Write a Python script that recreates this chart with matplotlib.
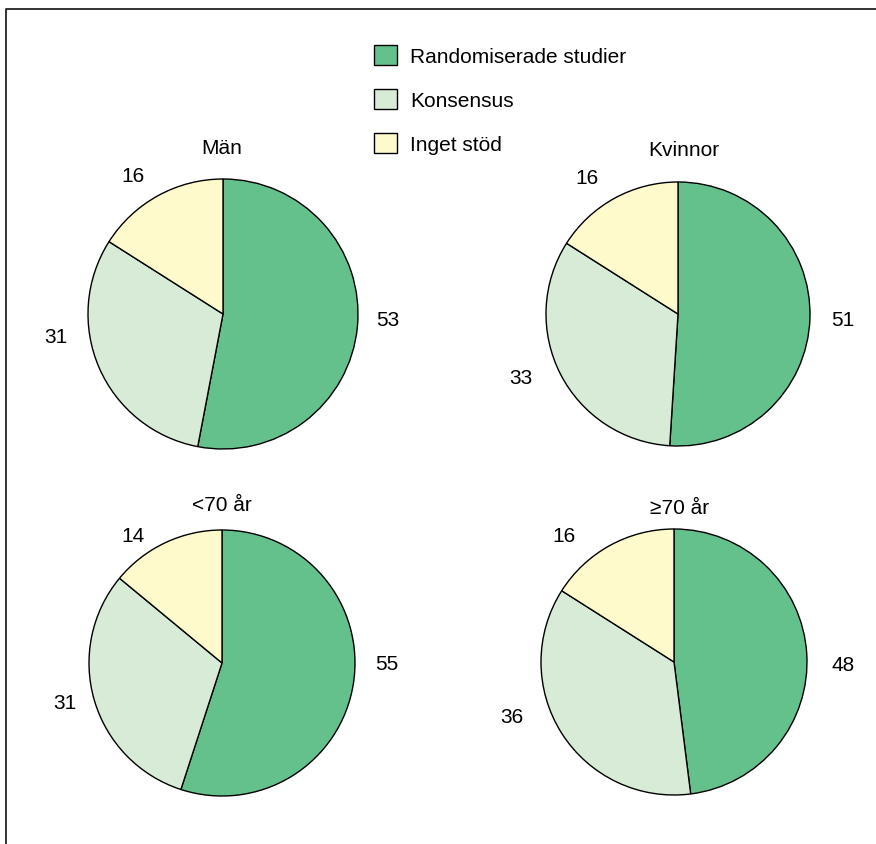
import matplotlib.pyplot as plt
from matplotlib.lines import Line2D

plt.rcParams['font.family'] = ['Liberation Sans', 'DejaVu Sans']
plt.rcParams['font.size'] = 15

W, H = 876, 845

categories = ['Randomiserade studier', 'Konsensus', 'Inget stöd']
colors = ['#64c18c', '#d8ebd6', '#fffacc']

titles = ['Män', 'Kvinnor', '<70 år', '≥70 år']
man = [53, 31, 16]
kvinnor = [51, 33, 16]
under70 = [55, 31, 14]
over70 = [48, 36, 16]
groups = [man, kvinnor, under70, over70]

# layout in pixels (from the top left corner)
centers = [(223, 315), (678, 315), (222, 664), (674, 663)]
radii = [135, 132, 133, 133]
title_pos = [(222, 148), (684, 151), (222, 506), (680, 508)]
# label offsets from the pie centre (dx, dy), y downwards
label_off = [
    [(165, 6), (-167, 23), (-90, -139)],
    [(165, 5), (-157, 64), (-91, -137)],
    [(165, 1), (-157, 40), (-89, -128)],
    [(169, 3), (-162, 55), (-110, -126)],
]

fig = plt.figure(figsize=(W / 100, H / 100), dpi=100)
ax = fig.add_axes([0, 0, 1, 1])
ax.set_xlim(0, W)
ax.set_ylim(0, H)
ax.axis('off')

# frame, only top and left
ax.add_line(Line2D([6, 6, W], [0, H - 10, H - 10], color='#222222', lw=1.3))

wedges_first = None
for i, vals in enumerate(groups):
    cx, cy = centers[i]
    wedges, _ = ax.pie(vals, colors=colors, startangle=90, counterclock=False,
                       center=(cx, H - cy), radius=radii[i],
                       wedgeprops=dict(edgecolor='black', linewidth=1))
    if wedges_first is None:
        wedges_first = wedges
    for v, (dx, dy) in zip(vals, label_off[i]):
        ax.text(cx + dx, H - (cy + dy), str(v), ha='center', va='center')
    tx, ty = title_pos[i]
    ax.text(tx, H - ty, titles[i], ha='center', va='center')

ax.set_xlim(0, W)
ax.set_ylim(0, H)
ax.set_aspect('auto')

ax.legend(wedges_first, categories, loc='upper left',
          bbox_to_anchor=(374, H - 46), bbox_transform=ax.transData,
          frameon=False, borderpad=0, borderaxespad=0,
          handlelength=1.1, handleheight=1.1, handletextpad=0.65,
          labelspacing=1.1, fontsize=15)

fig.savefig('out.png', dpi=100)
